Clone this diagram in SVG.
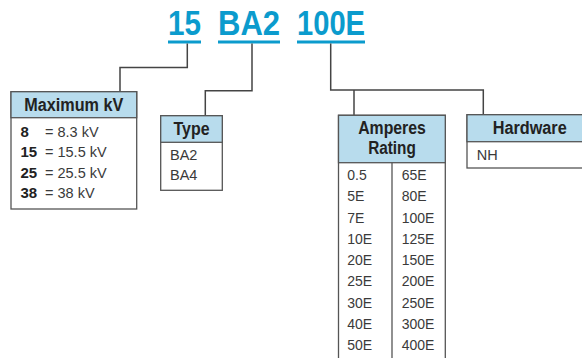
<svg xmlns="http://www.w3.org/2000/svg" width="582" height="358" viewBox="0 0 582 358">
<style>
.title{font-family:"Liberation Sans",Arial,sans-serif;font-weight:bold;font-size:35px;fill:#0b9bcd}
.ul{stroke:#0b9bcd;stroke-width:2.8;fill:none}
.conn{stroke:#444;stroke-width:1.5;fill:none}
.hdr{fill:#b8dced;stroke:#555;stroke-width:1.3}
.body{fill:#fff;stroke:#555;stroke-width:1.3}
.ht{font-family:"Liberation Sans",Arial,sans-serif;font-weight:bold;font-size:18px;fill:#222;text-anchor:middle}
.bt{font-family:"Liberation Sans",Arial,sans-serif;font-size:14.5px;fill:#3a3a3a}
.bb{font-family:"Liberation Sans",Arial,sans-serif;font-size:15px;font-weight:bold;fill:#222}
</style>
<g id="title">
<text class="title" x="168" y="35" textLength="33" lengthAdjust="spacingAndGlyphs">15</text>
<text class="title" x="218" y="35" textLength="62" lengthAdjust="spacingAndGlyphs">BA2</text>
<text class="title" x="297" y="35" textLength="68" lengthAdjust="spacingAndGlyphs">100E</text>
<line class="ul" x1="168" y1="42" x2="201" y2="42"/>
<line class="ul" x1="218" y1="42" x2="280" y2="42"/>
<line class="ul" x1="297" y1="42" x2="365" y2="42"/>
</g>
<g id="connectors">
<polyline class="conn" points="187.3,43.5 187.3,67.5 120,67.5 120,92"/>
<polyline class="conn" points="252,43.5 252,90.7 205.3,90.7 205.3,116"/>
<polyline class="conn" points="330.7,43.5 330.7,90 483.3,90 483.3,115"/>
<line class="conn" x1="354" y1="90" x2="354" y2="115.5"/>
</g>
<g id="maxkv">
<rect class="body" x="11" y="91.7" width="125.7" height="117.3"/>
<rect class="hdr" x="11" y="91.7" width="125.7" height="26"/>
<text class="ht" x="73.8" y="110.5" textLength="99" lengthAdjust="spacingAndGlyphs">Maximum kV</text>
<text class="bb" x="20.5" y="136.5">8</text><text class="bt" x="45" y="136.5">= 8.3 kV</text>
<text class="bb" x="20.5" y="157">15</text><text class="bt" x="45" y="157">= 15.5 kV</text>
<text class="bb" x="20.5" y="177.8">25</text><text class="bt" x="45" y="177.8">= 25.5 kV</text>
<text class="bb" x="20.5" y="198.3">38</text><text class="bt" x="45" y="198.3">= 38 kV</text>
</g>
<g id="type">
<rect class="body" x="160.7" y="115.7" width="61.6" height="74.6"/>
<rect class="hdr" x="160.7" y="115.7" width="61.6" height="26.6"/>
<text class="ht" x="191.5" y="134.8" textLength="36" lengthAdjust="spacingAndGlyphs">Type</text>
<text class="bt" x="170" y="160">BA2</text>
<text class="bt" x="170" y="180.3">BA4</text>
</g>
<g id="amperes">
<rect class="body" x="338.5" y="115.3" width="106.8" height="250"/>
<rect class="hdr" x="338.5" y="115.3" width="106.8" height="47.4"/>
<line x1="392" y1="162.7" x2="392" y2="365" stroke="#555" stroke-width="1.3"/>
<text class="ht" x="392" y="133.5" textLength="67.7" lengthAdjust="spacingAndGlyphs">Amperes</text>
<text class="ht" x="392" y="154.3" textLength="47.7" lengthAdjust="spacingAndGlyphs">Rating</text>
<g class="bt" style="font-size:14px">
<text x="347.3" y="180">0.5</text>
<text x="347.3" y="201.25">5E</text>
<text x="347.3" y="222.5">7E</text>
<text x="347.3" y="243.75">10E</text>
<text x="347.3" y="265">20E</text>
<text x="347.3" y="286.25">25E</text>
<text x="347.3" y="307.5">30E</text>
<text x="347.3" y="328.75">40E</text>
<text x="347.3" y="350">50E</text>
<text x="401.7" y="180">65E</text>
<text x="401.7" y="201.25">80E</text>
<text x="401.7" y="222.5">100E</text>
<text x="401.7" y="243.75">125E</text>
<text x="401.7" y="265">150E</text>
<text x="401.7" y="286.25">200E</text>
<text x="401.7" y="307.5">250E</text>
<text x="401.7" y="328.75">300E</text>
<text x="401.7" y="350">400E</text>
</g>
</g>
<g id="hardware">
<rect class="body" x="467" y="114.7" width="130" height="53.3"/>
<rect class="hdr" x="467" y="114.7" width="130" height="27"/>
<text class="ht" x="529.7" y="133.5" textLength="74" lengthAdjust="spacingAndGlyphs">Hardware</text>
<text class="bt" x="476.7" y="160">NH</text>
</g>
</svg>
